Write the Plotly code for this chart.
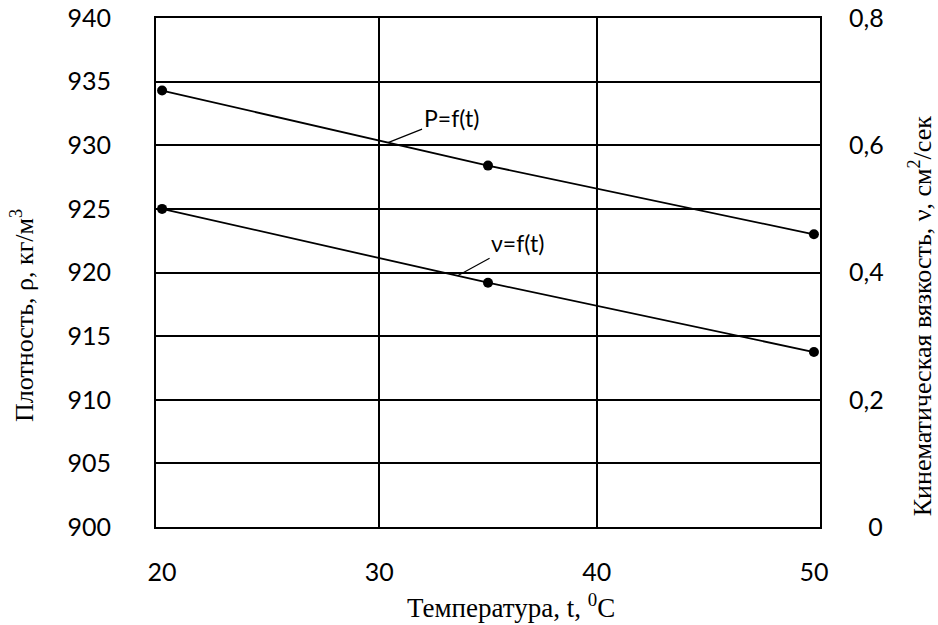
import numpy as np
import plotly.graph_objects as go

# Data
temperature = [20, 35, 50]
density = [934.3, 928.4, 923.0]          # left axis, kg/m3
viscosity = [0.50, 0.384, 0.275]         # right axis, cm2/s

left_ticks = [900, 905, 910, 915, 920, 925, 930, 935, 940]
right_ticks = [0, 0.2, 0.4, 0.6, 0.8]
right_tick_text = ["\u00a0\u00a0\u00a00", "0,2", "0,4", "0,6", "0,8"]
x_ticks = [20, 30, 40, 50]
x_grid = [30, 40]

TICK_FONT = dict(family="Lato, Carlito, sans-serif", size=25, color="black")
SERIF = "Liberation Serif, Times New Roman, serif"
LABEL_FONT = dict(family="Lato, sans-serif", size=23, color="black")

fig = go.Figure()
fig.add_trace(go.Scatter(
    x=temperature, y=density, mode="lines+markers",
    line=dict(color="black", width=1.8),
    marker=dict(color="black", size=10), yaxis="y", showlegend=False))
fig.add_trace(go.Scatter(
    x=temperature, y=viscosity, mode="lines+markers",
    line=dict(color="black", width=1.8),
    marker=dict(color="black", size=10), yaxis="y2", showlegend=False))

# Leader-line labels anchored on the curves
xp = 30.4
fig.add_annotation(x=xp, y=float(np.interp(xp, temperature, density)), xref="x", yref="y",
                   text="P=f(t)", showarrow=True, arrowhead=0, arrowwidth=1.2,
                   arrowcolor="black", ax=63, ay=-25, font=LABEL_FONT)
xv = 33.6
fig.add_annotation(x=xv, y=float(np.interp(xv, temperature, viscosity)), xref="x", yref="y2",
                   text="ν=f(t)", showarrow=True, arrowhead=0, arrowwidth=1.2,
                   arrowcolor="black", ax=60, ay=-33, font=LABEL_FONT)

# Axis titles
fig.add_annotation(x=-0.2018, y=0.4145, xref="paper", yref="paper", showarrow=False,
                   text="Плотность, ρ, кг/м<sup>3</sup>", textangle=-90,
                   font=dict(family=SERIF, size=26, color="black"),
                   xanchor="center", yanchor="middle")
fig.add_annotation(x=1.151, y=0.4145, xref="paper", yref="paper", showarrow=False,
                   text="Кинематическая вязкость, ν, см<sup>2</sup>/сек", textangle=-90,
                   font=dict(family=SERIF, size=26, color="black"),
                   xanchor="center", yanchor="middle")
fig.add_annotation(x=0.5346, y=-0.156, xref="paper", yref="paper", showarrow=False,
                   text="Температура, t, <sup>0</sup>C",
                   font=dict(family=SERIF, size=27, color="black"),
                   xanchor="center", yanchor="middle")

fig.update_layout(
    template="none",
    width=938, height=625,
    margin=dict(l=156, r=118, t=18, b=98, autoexpand=False),
    paper_bgcolor="white", plot_bgcolor="white",
    xaxis=dict(range=[19.72, 50.28], tickvals=x_ticks, ticks="", showgrid=False,
               zeroline=False, showline=True, mirror=True, linecolor="black", linewidth=2,
               tickfont=TICK_FONT, ticklabelstandoff=22, automargin=False,
               minor=dict(tickvals=x_grid, showgrid=True, gridcolor="black", gridwidth=2, ticks="")),
    yaxis=dict(range=[900, 940], tickvals=left_ticks, ticks="", showgrid=True,
               gridcolor="black", gridwidth=2, zeroline=False, showline=True, mirror=True,
               linecolor="black", linewidth=2, tickfont=TICK_FONT, ticklabelstandoff=38,
               automargin=False),
    yaxis2=dict(range=[0, 0.8], tickvals=right_ticks, ticktext=right_tick_text,
                overlaying="y", side="right", showgrid=False, zeroline=False,
                showline=False, ticks="", tickfont=TICK_FONT, ticklabelstandoff=28,
                automargin=False),
)

fig.write_html("out.html", config={"displayModeBar": False},
               post_script="document.body.style.margin='0';document.body.style.overflow='hidden';")
